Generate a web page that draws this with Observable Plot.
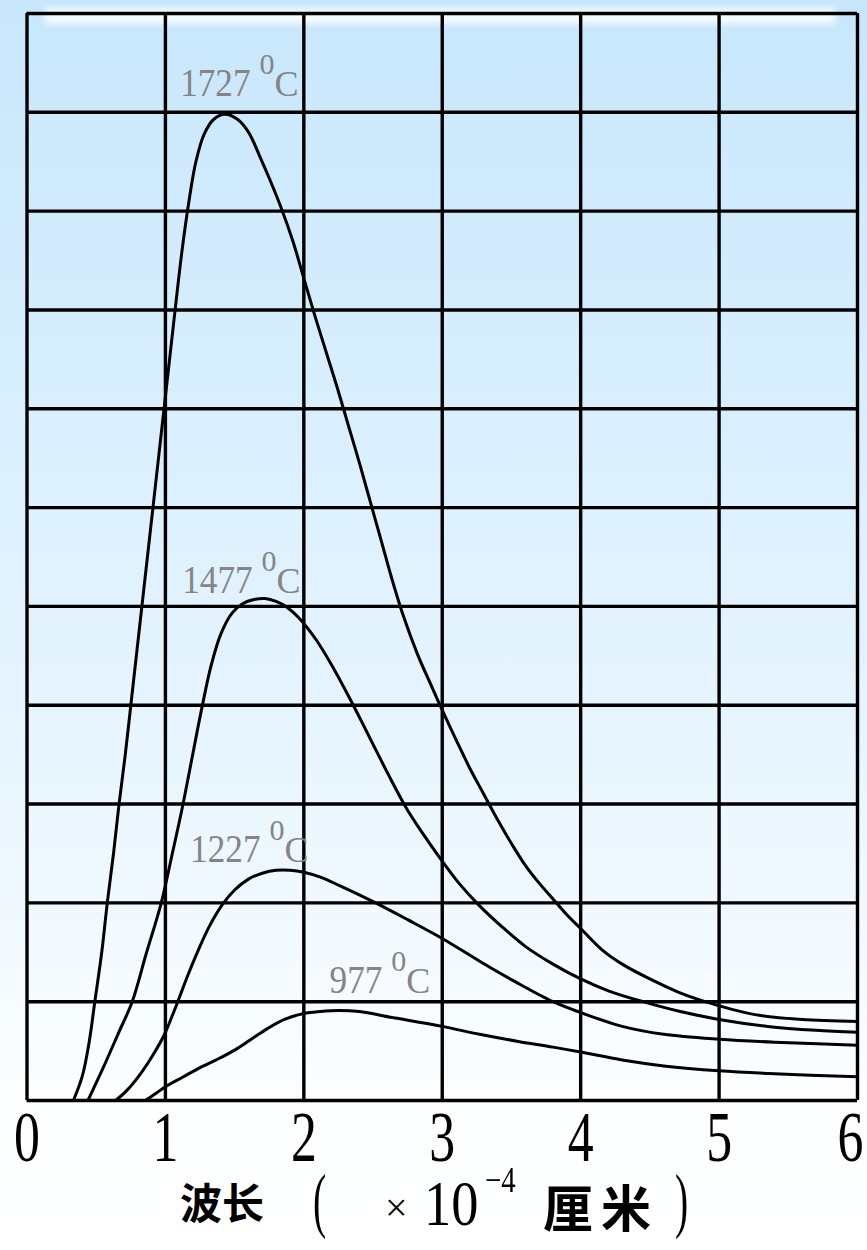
<!DOCTYPE html>
<html>
<head>
<meta charset="utf-8">
<script src="https://cdn.jsdelivr.net/npm/d3@7"></script>
<script src="https://cdn.jsdelivr.net/npm/@observablehq/plot@0.6"></script>
<style>
  html, body { margin: 0; padding: 0; }
  body {
    width: 867px; height: 1250px; overflow: hidden; position: relative;
    background: linear-gradient(to bottom, #c8e7fc 0px, #d4edfd 300px, #e3f3fe 650px, #f3faff 950px, #fcfeff 1100px, #ffffff 1250px);
  }
  #smudge { position: absolute; left: 45px; top: 8px; width: 790px; height: 16px;
    background: rgba(255,255,255,0.8); filter: blur(3px); }
  #chart { position: absolute; left: 0; top: 0; }
  #title { position: absolute; left: 0; top: 0; width: 867px; height: 1250px; pointer-events: none; }
  #title span { position: absolute; white-space: nowrap; color: #000; line-height: 1; }
  #title .cjk { font-family: "Noto Sans CJK SC", sans-serif; font-weight: 700; }
  #title .ser { font-family: "Liberation Serif", serif; }
</style>
</head>
<body>
<div id="smudge"></div>
<div id="chart"></div>
<div id="title">
  <span class="cjk" style="left:180px;top:1180px;font-size:42px;">波长</span>
  <span class="ser" style="left:313px;top:1164px;font-size:72px;transform:scaleX(0.55);transform-origin:left top;">(</span>
  <span class="ser" style="left:385px;top:1188px;font-size:40px;">×</span>
  <span class="ser" style="left:424px;top:1172px;font-size:64px;transform:scaleX(0.85);transform-origin:left top;">10</span>
  <span class="ser" style="left:485px;top:1162px;font-size:36px;transform:scaleX(0.8);transform-origin:left top;">−4</span>
  <span class="cjk" style="left:543px;top:1180px;font-size:50px;letter-spacing:8px;">厘米</span>
  <span class="ser" style="left:675px;top:1164px;font-size:72px;transform:scaleX(0.55);transform-origin:left top;">)</span>
</div>
<script>
// ---- data ----
const xTicks = [0, 1, 2, 3, 4, 5, 6];
const yGrid = [0, 1, 2, 3, 4, 5, 6, 7, 8, 9, 10, 11];
const temps = ["1727", "1477", "1227", "977"];

// wavelength (×10^-4 cm), intensity (grid units)
const c1727 = [[0.335,0],[0.40,0.25],[0.45,0.6],[0.49,1.0],[0.54,1.5],[0.58,2.0],[0.625,2.5],[0.665,3.0],[0.71,3.5],[0.75,4.0],[0.79,4.5],[0.83,5.0],[0.87,5.5],[0.91,6.0],[0.95,6.5],[0.99,7.0],[1.03,7.5],[1.07,8.0],[1.12,8.6],[1.17,9.1],[1.22,9.5],[1.28,9.78],[1.35,9.93],[1.43,9.98],[1.52,9.93],[1.60,9.8],[1.68,9.56],[1.76,9.3],[1.84,9.02],[1.92,8.7],[2.0,8.32],[2.08,7.94],[2.16,7.58],[2.24,7.22],[2.32,6.84],[2.40,6.46],[2.48,6.06],[2.56,5.66],[2.64,5.26],[2.72,4.9],[2.82,4.52],[2.92,4.2],[3.0,3.95],[3.1,3.65],[3.2,3.36],[3.3,3.1],[3.4,2.84],[3.5,2.6],[3.6,2.38],[3.7,2.2],[3.8,2.04],[3.9,1.88],[4.0,1.74],[4.15,1.53],[4.3,1.38],[4.5,1.23],[4.7,1.1],[4.9,1.0],[5.1,0.92],[5.3,0.86],[5.6,0.82],[6.0,0.8]];
const c1477 = [[0.44,0],[0.55,0.33],[0.66,0.68],[0.76,1.0],[0.86,1.48],[0.97,2.0],[1.05,2.5],[1.12,2.95],[1.19,3.45],[1.26,3.95],[1.33,4.4],[1.40,4.72],[1.48,4.93],[1.56,5.03],[1.64,5.07],[1.72,5.08],[1.80,5.05],[1.88,4.99],[1.96,4.89],[2.09,4.66],[2.22,4.36],[2.35,4.02],[2.48,3.66],[2.61,3.3],[2.74,2.96],[2.86,2.7],[2.98,2.46],[3.12,2.2],[3.27,1.97],[3.43,1.76],[3.6,1.56],[3.8,1.38],[4.0,1.23],[4.2,1.11],[4.45,1.0],[4.72,0.9],[5.0,0.82],[5.35,0.75],[5.7,0.71],[6.0,0.69]];
const c1227 = [[0.64,0],[0.72,0.1],[0.82,0.27],[0.91,0.46],[0.99,0.66],[1.05,0.86],[1.1,1.04],[1.16,1.26],[1.24,1.53],[1.32,1.77],[1.41,1.98],[1.5,2.13],[1.6,2.24],[1.7,2.3],[1.8,2.33],[1.9,2.33],[2.0,2.31],[2.12,2.26],[2.25,2.18],[2.49,2.02],[2.75,1.83],[3.0,1.64],[3.27,1.41],[3.53,1.2],[3.8,1.0],[4.0,0.89],[4.3,0.75],[4.6,0.67],[5.0,0.62],[5.4,0.59],[6.0,0.56]];
const c977 = [[0.855,0],[0.93,0.07],[1.0,0.14],[1.13,0.24],[1.26,0.34],[1.38,0.42],[1.5,0.51],[1.62,0.62],[1.74,0.73],[1.86,0.82],[2.0,0.88],[2.12,0.9],[2.25,0.91],[2.4,0.9],[2.64,0.84],[3.0,0.75],[3.27,0.67],[3.54,0.6],[3.8,0.54],[4.0,0.49],[4.3,0.41],[4.6,0.35],[5.0,0.3],[5.4,0.27],[6.0,0.24]];

// curve labels: anchor (end of the number, baseline) in data units
const labelX = [1.615, 1.63, 1.687, 2.567];
const labelY = [10.17, 5.14, 2.41, 1.083];

// ---- build tables ----
const series = [c1727, c1477, c1227, c977];
const rows = series.flatMap((pts, i) => pts.map(([x, y]) => ({t: temps[i], x, y})));
const labels = temps.map((t, i) => ({t, x: labelX[i], y: labelY[i]}));

const chart = Plot.plot({
  width: 867,
  height: 1165,
  marginLeft: 26.5,
  marginRight: 10,
  marginTop: 13,
  marginBottom: 65,
  x: {domain: [0, 6], axis: null},
  y: {domain: [0, 11], axis: null},
  style: {background: "transparent", overflow: "visible"},
  marks: [
    Plot.ruleX(xTicks, {stroke: "#000", strokeWidth: 3.4}),
    Plot.ruleY(yGrid, {stroke: "#000", strokeWidth: 3.4}),
    Plot.line(rows, {x: "x", y: "y", z: "t", curve: "catmull-rom", stroke: "#000", strokeWidth: 3}),
    Plot.text(labels, {x: "x", y: "y", text: "t", textAnchor: "end", lineAnchor: "bottom",
      fontSize: 40, fill: "#858585", fontFamily: "Liberation Serif"}),
    Plot.text(labels, {x: "x", y: "y", text: () => "0", textAnchor: "start", lineAnchor: "bottom",
      dx: 9, dy: -22, fontSize: 30, fill: "#858585", fontFamily: "Liberation Serif"}),
    Plot.text(labels, {x: "x", y: "y", text: () => "C", textAnchor: "start", lineAnchor: "bottom",
      dx: 24, fontSize: 36, fill: "#858585", fontFamily: "Liberation Serif"}),
    Plot.text(xTicks, {x: d => d, frameAnchor: "bottom", dy: 60, text: d => String(d),
      fontSize: 72, fill: "#000", fontFamily: "Liberation Serif"})
  ]
});
document.getElementById("chart").appendChild(chart);

// condense text horizontally around its anchor (narrow serif face of the original)
function condense(group, k, shiftLast) {
  const els = group.querySelectorAll("text");
  els.forEach((el, i) => {
    const extra = (shiftLast && i === els.length - 1) ? shiftLast : 0;
    const tr = el.getAttribute("transform");
    if (tr && tr.includes("translate")) {
      el.setAttribute("transform", `translate(${extra},0) ` + tr + ` scale(${k},1)`);
    } else {
      const x = +el.getAttribute("x") || 0;
      el.setAttribute("transform", `translate(${x + extra},0) scale(${k},1) translate(${-x},0)`);
    }
  });
}
const groups = chart.querySelectorAll('g[aria-label="text"]');
condense(groups[groups.length - 1], 0.72, -7);
condense(groups[0], 0.88, 0);
</script>
</body>
</html>
